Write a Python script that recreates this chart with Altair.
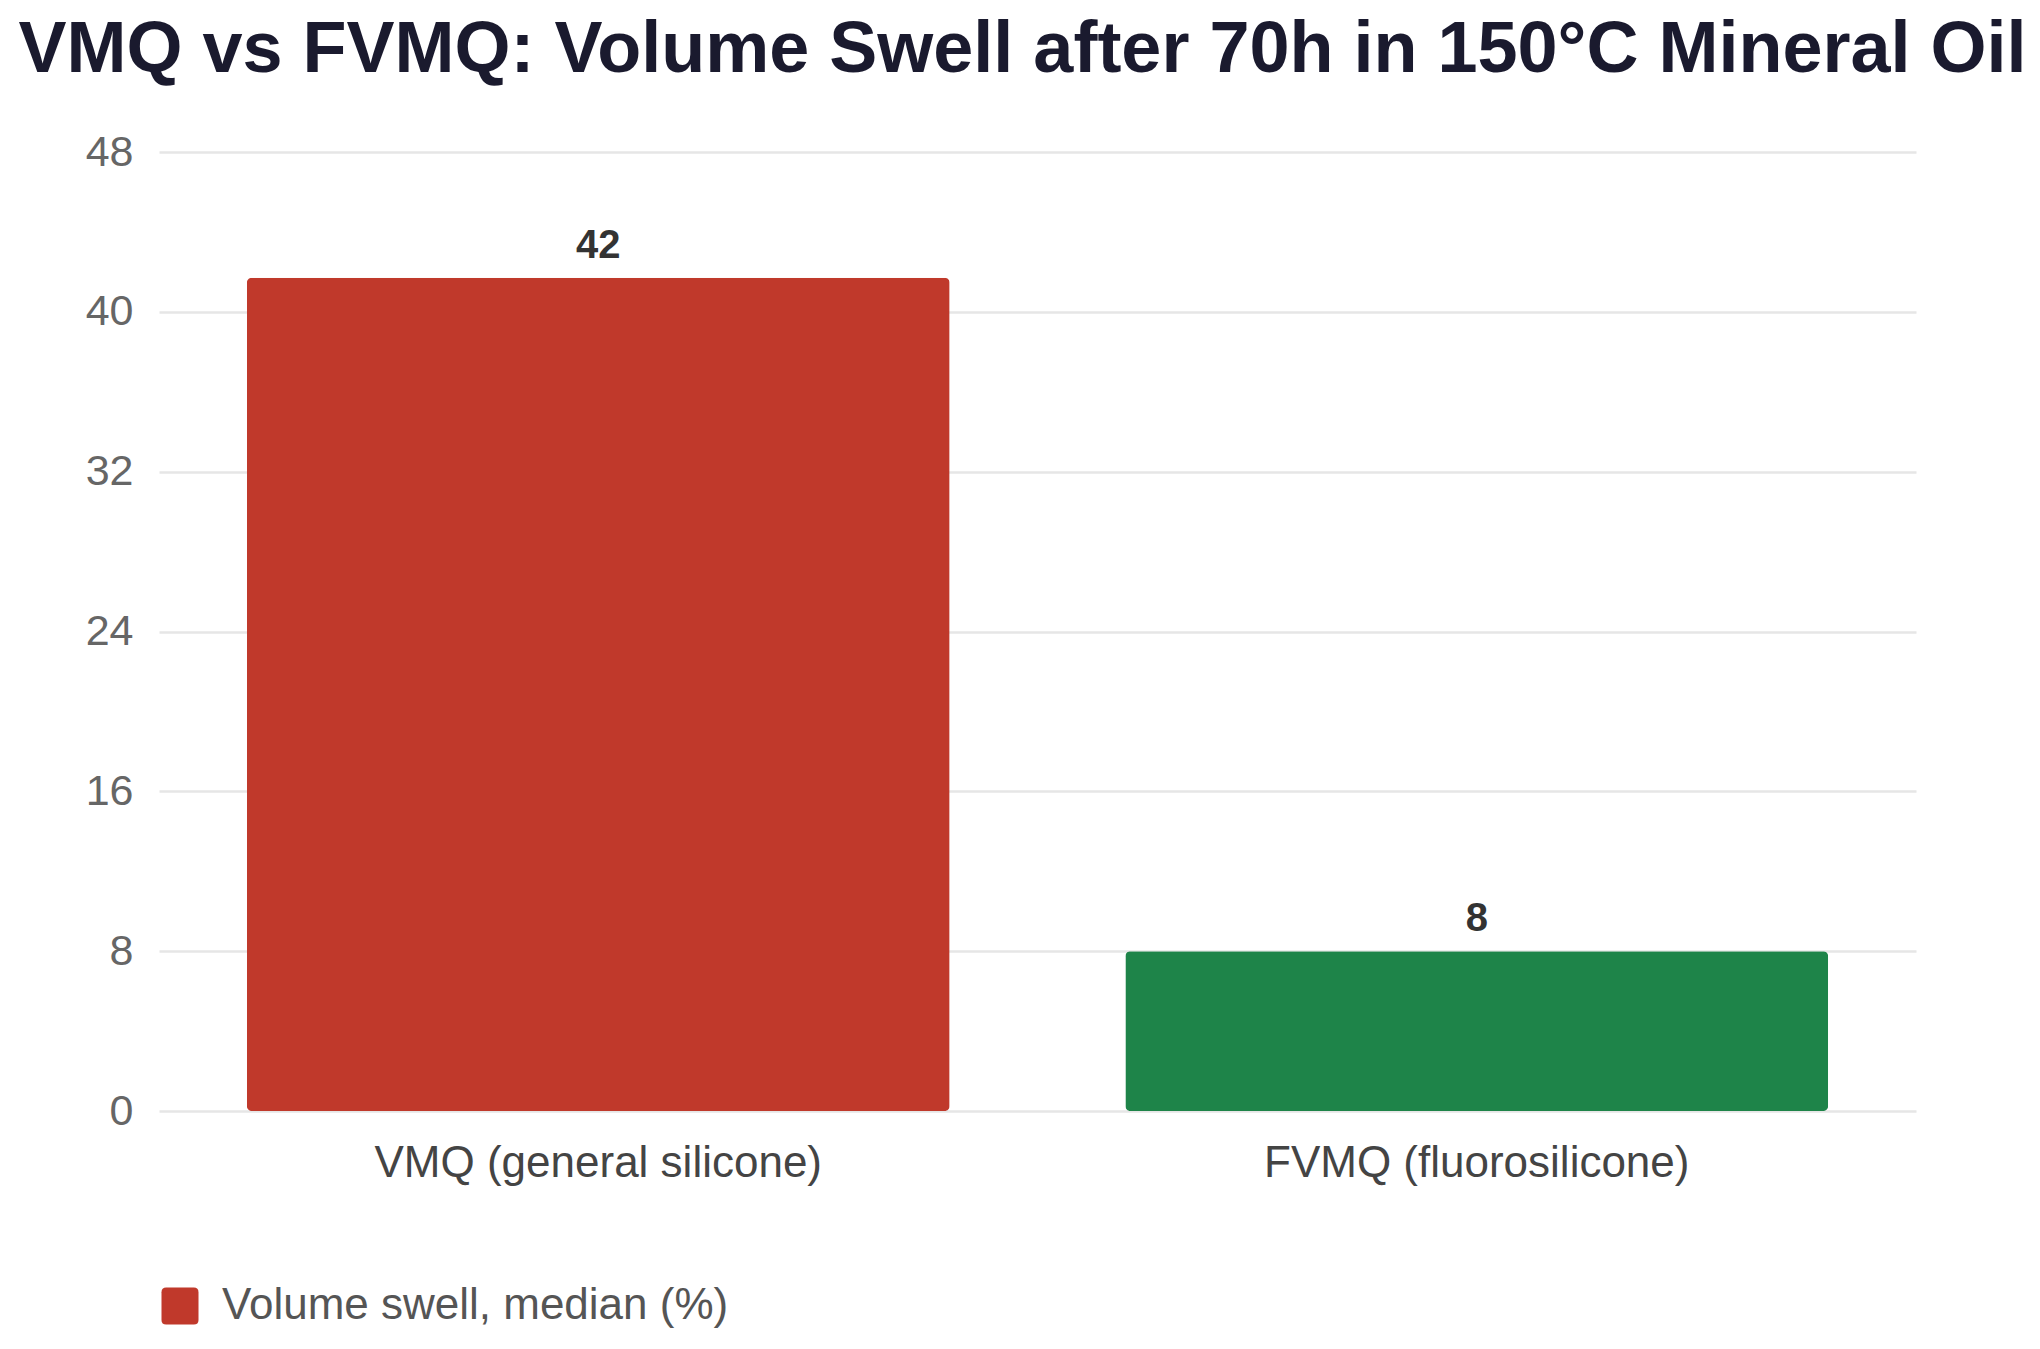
import altair as alt
import pandas as pd

categories = ["VMQ (general silicone)", "FVMQ (fluorosilicone)"]
values = [41.7, 8]
bar_colors = ["#c0392b", "#1e8449"]
series_name = ["Volume swell, median (%)"]
y_ticks = [0, 8, 16, 24, 32, 40, 48]

df = pd.DataFrame({
    "category": categories,
    "value": values,
    "color": bar_colors,
    "series": series_name * len(categories),
})

FONT = "Liberation Sans"

x_enc = alt.X(
    "category:N",
    sort=categories,
    title=None,
    scale=alt.Scale(paddingInner=0.2, paddingOuter=0.1),
    axis=alt.Axis(labelAngle=0, labelFontSize=44, labelColor="#444444", labelFont=FONT,
                  labelPadding=30, labelLimit=0, ticks=False, domain=False, grid=False),
)
y_enc = alt.Y(
    "value:Q",
    title=None,
    scale=alt.Scale(domain=[0, 48], nice=False),
    axis=alt.Axis(values=y_ticks, labelFontSize=43, labelColor="#666666", labelFont=FONT,
                  labelPadding=26, ticks=False, domain=False, grid=True,
                  gridColor="#e6e6e6", gridWidth=2.5),
)

base = alt.Chart(df)

bars = base.mark_bar(cornerRadius=5).encode(
    x=x_enc,
    y=y_enc,
    fill=alt.Fill("color:N", scale=None),
)

labels = base.mark_text(
    baseline="alphabetic", dy=-20, fontSize=40, fontWeight="bold", color="#333333", font=FONT
).encode(
    x=alt.X("category:N", sort=categories),
    y="value:Q",
    text=alt.Text("value:Q", format=".0f"),
)

rounded_square = ("M -0.75,-1 L 0.75,-1 Q 1,-1 1,-0.75 L 1,0.75 Q 1,1 0.75,1 L -0.75,1 "
                  "Q -1,1 -1,0.75 L -1,-0.75 Q -1,-1 -0.75,-1 Z")

legend_layer = base.mark_point(filled=True, opacity=0, size=1).encode(
    x=alt.X("category:N", sort=categories),
    y="value:Q",
    color=alt.Color(
        "series:N",
        scale=alt.Scale(domain=series_name, range=[bar_colors[0]]),
        legend=alt.Legend(
            title=None, orient="none", legendX=-1, legendY=1132,
            symbolType=rounded_square, symbolSize=1369, symbolOpacity=1,
            symbolStrokeWidth=0, labelFontSize=44, labelColor="#555555",
            labelFont=FONT, labelOffset=20, labelLimit=0, padding=0,
        ),
    ),
)

chart = alt.layer(bars, labels, legend_layer).properties(
    width=1757,
    height=959,
    background="white",
    autosize=alt.AutoSizeParams(type="none"),
    padding={"left": 159, "top": 152, "right": 124, "bottom": 238},
    title=alt.TitleParams(
        "VMQ vs FVMQ: Volume Swell after 70h in 150°C Mineral Oil",
        fontSize=72, fontWeight="bold", font=FONT, color="#1a1a2e",
        anchor="middle", dx=-15, offset=44,
    ),
).configure_view(strokeWidth=0, stroke=None)

chart.save("out.html", embed_options={"renderer": "svg", "actions": False})
